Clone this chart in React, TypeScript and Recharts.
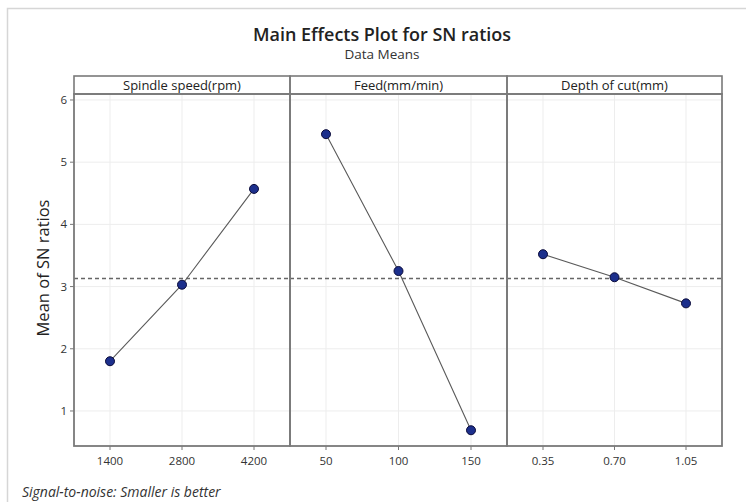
import React from 'react';
import { LineChart, Line, XAxis, YAxis, CartesianGrid, ReferenceLine } from 'recharts';

const speedLevels = ['1400', '2800', '4200'];
const speedMeans = [1.80, 3.03, 4.57];
const feedLevels = ['50', '100', '150'];
const feedMeans = [5.45, 3.25, 0.69];
const depthLevels = ['0.35', '0.70', '1.05'];
const depthMeans = [3.52, 3.15, 2.73];
const overallMean = 3.13;
const yTicks = [1, 2, 3, 4, 5, 6];
const panelTitles = ['Spindle speed(rpm)', 'Feed(mm/min)', 'Depth of cut(mm)'];

const FONT = '"Open Sans", "Noto Sans", sans-serif';
const BORDER = '#7a7a7a';

const build = (levels: string[], vals: number[]) => levels.map((x, i) => ({ x, v: vals[i] }));

const panels = [
  { data: build(speedLevels, speedMeans), left: 0, width: 290, showY: true },
  { data: build(feedLevels, feedMeans), left: 290, width: 217, showY: false },
  { data: build(depthLevels, depthMeans), left: 507, width: 215, showY: false },
];

const plotLeft = [74, 290, 507];
const plotRight = [290, 507, 722];

function Panel({ data, left, width, showY }: any) {
  return (
    <div style={{ position: 'absolute', left, top: 0 }}>
      <LineChart width={width} height={502} data={data} margin={{ top: 94, right: 0, bottom: 26, left: 0 }}>
        <CartesianGrid stroke="#ededed" strokeWidth={1} />
        <XAxis
          dataKey="x"
          type="category"
          padding={{ left: 36, right: 36 }}
          axisLine={false}
          tickLine={{ stroke: '#777' }}
          tickSize={4}
          tickMargin={7}
          height={30}
          tick={{ fontSize: 11.5, fill: '#333', fontFamily: FONT }}
          interval={0}
        />
        <YAxis
          hide={!showY}
          width={74}
          domain={[0.437, 6.096]}
          ticks={yTicks}
          allowDataOverflow
          axisLine={false}
          tickLine={{ stroke: '#777' }}
          tickSize={4}
          tickMargin={3}
          tick={{ fontSize: 11.5, fill: '#333', fontFamily: FONT }}
        />
        <ReferenceLine y={overallMean} stroke="#666" strokeWidth={1.3} strokeDasharray="4 3" />
        <Line
          type="linear"
          dataKey="v"
          stroke="#5a5a5a"
          strokeWidth={1.1}
          isAnimationActive={false}
          dot={{ r: 4.5, fill: '#1c2f8c', stroke: '#0b0b3a', strokeWidth: 1 }}
          activeDot={false}
        />
      </LineChart>
    </div>
  );
}

export default function App() {
  return (
    <div style={{ position: 'absolute', left: 0, top: 0, width: 746, height: 502, background: '#fff', overflow: 'hidden', fontFamily: FONT }}>
      {panels.map((p, i) => (
        <Panel key={i} {...p} />
      ))}
      <svg width={746} height={502} style={{ position: 'absolute', left: 0, top: 0, pointerEvents: 'none' }}>
        <path d="M7.5,502 L7.5,8.5 L746,8.5" fill="none" stroke="#d6d6d6" strokeWidth={1.5} />
        <text x={382} y={41} textAnchor="middle" fontSize={18.5} fontWeight={600} fill="#222" fontFamily={FONT} textLength={258} lengthAdjust="spacingAndGlyphs">
          Main Effects Plot for SN ratios
        </text>
        <text x={382} y={59} textAnchor="middle" fontSize={13.5} fill="#333" fontFamily={FONT}>
          Data Means
        </text>
        {panelTitles.map((t, i) => (
          <g key={i}>
            <rect x={plotLeft[i]} y={76} width={plotRight[i] - plotLeft[i]} height={18} fill="none" stroke={BORDER} strokeWidth={1.6} />
            <rect x={plotLeft[i]} y={94} width={plotRight[i] - plotLeft[i]} height={352} fill="none" stroke={BORDER} strokeWidth={1.8} />
            <text x={(plotLeft[i] + plotRight[i]) / 2} y={89.5} textAnchor="middle" fontSize={13} fill="#222" fontFamily={FONT}>
              {t}
            </text>
          </g>
        ))}
        <text x={45} y={268} transform="rotate(-90 45 268)" textAnchor="middle" dominantBaseline="middle" fontSize={16.5} fill="#222" fontFamily={FONT}>
          Mean of SN ratios
        </text>
        <text x={22} y={497} fontSize={14} fontStyle="italic" fill="#333" fontFamily={FONT}>
          Signal-to-noise: Smaller is better
        </text>
      </svg>
    </div>
  );
}
